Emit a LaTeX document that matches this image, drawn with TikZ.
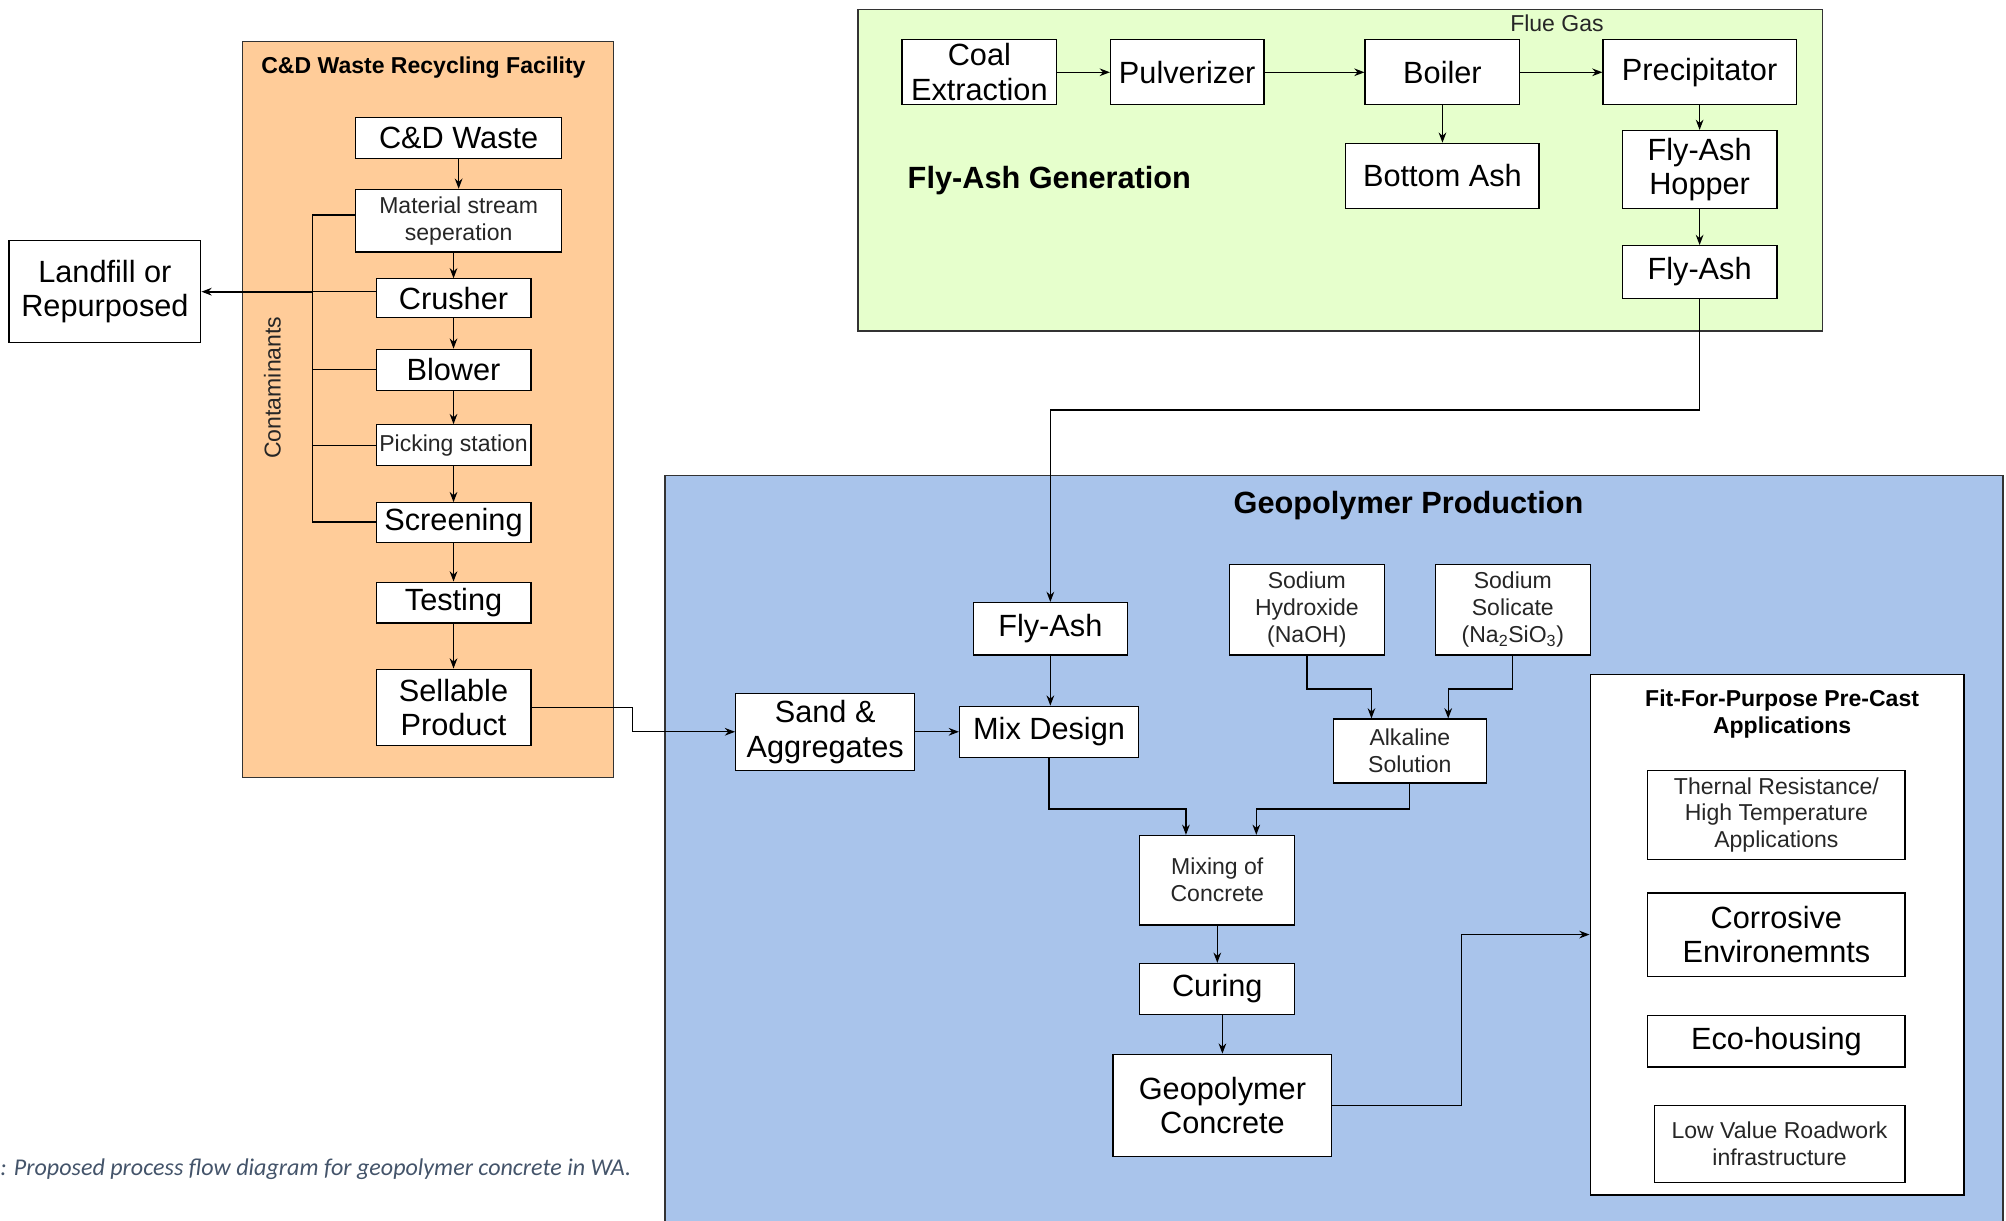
\documentclass[tikz,border=0pt]{standalone}
\usepackage{fontspec}
\setmainfont{Liberation Sans}
\newfontfamily\capfont{Carlito}
\usetikzlibrary{arrows.meta,calc}

\definecolor{cdfill}{HTML}{FFCC99}
\definecolor{flyfill}{HTML}{E6FFCC}
\definecolor{geofill}{HTML}{A9C4EB}
\definecolor{capcol}{HTML}{44546A}
\definecolor{framecol}{HTML}{333333}

\begin{document}
\begin{tikzpicture}[x=1pt,y=-1pt,
  group/.style={draw=framecol, line width=1.2pt, inner sep=0pt, anchor=north west},
  box/.style={draw=black, fill=white, line width=0.9pt, inner sep=1pt, align=center,
              font=\fontsize{24}{27}\selectfont},
  smallbox/.style={box, font=\fontsize{18}{21}\selectfont, text=black!85},
  link/.style={line width=1pt, draw=black},
  arr/.style={link, -{Stealth[length=8pt,width=6pt]}},
  heading/.style={font=\bfseries\fontsize{24}{28}\selectfont},
  subheading/.style={font=\bfseries\fontsize{18}{21}\selectfont, align=center},
]
\useasboundingbox (0,0) rectangle (1568,954);

% ---------------- C&D waste recycling facility ----------------
\node[group, fill=cdfill, minimum width=290pt, minimum height=575pt] (cdfac) at (189,32) {};
\node[subheading] (cdtitle) at (331,53) {C\&D Waste Recycling Facility};

\node[box, minimum width=161pt, minimum height=32pt] (cdw) at (358.5,108) {C\&D Waste};
\node[smallbox, minimum width=161pt, minimum height=49pt] (mss) at (358.5,172.5) {Material stream\\seperation};
\node[box, minimum width=121pt, minimum height=30pt] (crusher) at (354.5,233) {Crusher};
\node[box, minimum width=121pt, minimum height=32pt] (blower) at (354.5,289) {Blower};
\node[smallbox, minimum width=121pt, minimum height=32pt, inner sep=0pt] (picking) at (354.5,348) {Picking station};
\node[box, minimum width=121pt, minimum height=31pt] (screening) at (354.5,408.5) {Screening};
\node[box, minimum width=121pt, minimum height=32pt] (testing) at (354.5,471) {Testing};
\node[box, minimum width=121pt, minimum height=60pt] (sellable) at (354.5,553) {Sellable\\Product};

\node[box, minimum width=150pt, minimum height=80pt] (landfill) at (82,228) {Landfill or\\Repurposed};

\node[rotate=90, font=\fontsize{18}{21}\selectfont, text=black!85] (contam) at (213,303) {Contaminants};

\draw[arr] (cdw.south) -- (mss.north);
\draw[arr] (mss.south -| crusher.north) -- (crusher.north);
\draw[arr] (crusher) -- (blower);
\draw[arr] (blower) -- (picking);
\draw[arr] (picking) -- (screening);
\draw[arr] (screening) -- (testing);
\draw[arr] (testing) -- (sellable);

% contaminants collector
\coordinate (busTop) at (244,168);
\coordinate (busBot) at (244,408);
\draw[link] ([yshift=4.5pt]mss.west) -- (busTop) -- (busBot) -- (busBot -| screening.west);
\draw[link] (blower.west) -- (blower.west -| busTop);
\draw[link] (picking.west) -- (picking.west -| busTop);
\draw[link] (landfill.east -| crusher.west) -- (landfill.east -| busTop);
\draw[arr, line width=1.6pt] (landfill.east -| busTop) -- (landfill.east);

% ---------------- Fly-ash generation ----------------
\node[group, fill=flyfill, minimum width=754pt, minimum height=251pt] (flygen) at (670,7) {};
\node[heading, anchor=west] (flytitle) at (706,141) {Fly-Ash Generation};
\node[font=\fontsize{18}{21}\selectfont, text=black!85] (flue) at (1217,18) {Flue Gas};

\node[box, minimum width=121pt, minimum height=51pt] (coal) at (765.5,56.5) {Coal\\Extraction};
\node[box, minimum width=120pt, minimum height=51pt] (pulv) at (928,56.5) {Pulverizer};
\node[box, minimum width=121pt, minimum height=51pt] (boiler) at (1127.5,56.5) {Boiler};
\node[box, minimum width=151pt, minimum height=51pt] (precip) at (1328.5,56.5) {Precipitator};
\node[box, minimum width=151pt, minimum height=51pt] (bottom) at (1127.5,137.5) {Bottom Ash};
\node[box, minimum width=121pt, minimum height=61pt] (hopper) at (1328.5,132.5) {Fly-Ash\\Hopper};
\node[box, minimum width=121pt, minimum height=41pt] (flyashG) at (1328.5,212.5) {Fly-Ash};

\draw[arr] (coal) -- (pulv);
\draw[arr] (pulv) -- (boiler);
\draw[arr] (boiler) -- (precip);
\draw[arr] (boiler) -- (bottom);
\draw[arr] (precip) -- (hopper);
\draw[arr] (hopper) -- (flyashG);

% ---------------- Geopolymer production ----------------
\node[group, fill=geofill, minimum width=1046pt, minimum height=592pt] (geoprod) at (519,371) {};
\node[heading] (geotitle) at (1101,395) {Geopolymer Production};

\node[box, minimum width=120pt, minimum height=41pt] (flyashB) at (821,491.5) {Fly-Ash};
\node[smallbox, minimum width=121pt, minimum height=71pt] (naoh) at (1021.5,476.5) {Sodium\\Hydroxide\\(NaOH)};
\node[smallbox, minimum width=121pt, minimum height=71pt] (nasil) at (1182.5,476.5) {Sodium\\Solicate\\(Na\textsubscript{2}SiO\textsubscript{3})};
\node[box, minimum width=140pt, minimum height=60pt] (sand) at (645,572) {Sand \&\\Aggregates};
\node[box, minimum width=140pt, minimum height=40pt] (mix) at (820,572) {Mix Design};
\node[smallbox, minimum width=120pt, minimum height=50pt] (alk) at (1102,587) {Alkaline\\Solution};
\node[smallbox, minimum width=121pt, minimum height=70pt] (mixc) at (951.5,688) {Mixing of\\Concrete};
\node[box, minimum width=121pt, minimum height=40pt] (curing) at (951.5,773) {Curing};
\node[box, minimum width=171pt, minimum height=80pt] (geo) at (955.5,864) {Geopolymer\\Concrete};

% applications panel
\node[draw=black, fill=white, line width=1.1pt, minimum width=292pt, minimum height=407pt] (apps) at (1389,730.5) {};
\node[subheading] (appstitle) at (1393,558) {Fit-For-Purpose Pre-Cast\\Applications};
\node[smallbox, minimum width=201pt, minimum height=70pt] (thermal) at (1388.5,637) {Thernal Resistance/\\High Temperature\\Applications};
\node[box, minimum width=201pt, minimum height=65pt] (corr) at (1388.5,730.5) {Corrosive\\Environemnts};
\node[box, minimum width=201pt, minimum height=40pt] (eco) at (1388.5,814) {Eco-housing};
\node[smallbox, minimum width=196pt, minimum height=60pt] (low) at (1391,894) {Low Value Roadwork\\infrastructure};

% connectors
\draw[arr] (flyashG.south) -- ++(0,87) -| (flyashB.north);
\draw[arr] (sellable.east) -- ++(79,0) |- (sand.west);
\draw[arr] (flyashB.south) -- (flyashB.south |- mix.north);
\draw[arr] (sand.east) -- (mix.west);
\draw[arr] (naoh.south) -- ++(0,26) -| ([xshift=-30pt]alk.north);
\draw[arr] (nasil.south) -- ++(0,26) -| ([xshift=30pt]alk.north);
\draw[arr] (mix.south) -- ++(0,40) -| ([xshift=-24.5pt]mixc.north);
\draw[arr] (alk.south) -- ++(0,20) -| ([xshift=30.5pt]mixc.north);
\draw[arr] (mixc) -- (curing);
\draw[arr] (curing.south -| geo.north) -- (geo.north);
\draw[arr] (geo.east) -- ++(101,0) |- (apps.west);

% caption
\node[anchor=west, inner sep=0pt, text=capcol, font=\capfont\itshape\fontsize{18.8}{21}\selectfont] (caption) at (0,914)
  {: Proposed process flow diagram for geopolymer concrete in WA.};
\end{tikzpicture}
\end{document}
